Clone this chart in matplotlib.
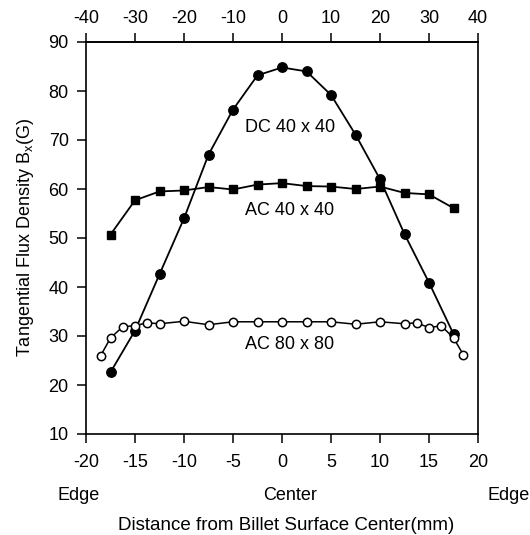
import numpy as np
import matplotlib
matplotlib.use('Agg')
import matplotlib.pyplot as plt

# Distance from billet surface center (mm)
x_dc = [-17.5, -15, -12.5, -10, -7.5, -5, -2.5, 0, 2.5, 5, 7.5, 10, 12.5, 15, 17.5]
dc_40 = [22.6, 31.1, 42.6, 54.0, 67.0, 76.2, 83.2, 84.8, 84.0, 79.2, 71.1, 62.0, 50.8, 40.9, 30.4]

x_ac40 = [-17.5, -15, -12.5, -10, -7.5, -5, -2.5, 0, 2.5, 5, 7.5, 10, 12.5, 15, 17.5]
ac_40 = [50.7, 57.7, 59.5, 59.7, 60.4, 59.9, 60.9, 61.2, 60.6, 60.5, 60.0, 60.5, 59.2, 58.9, 56.1]

x_ac80 = [-18.5, -17.5, -16.25, -15, -13.75, -12.5, -10, -7.5, -5, -2.5, 0,
          2.5, 5, 7.5, 10, 12.5, 13.75, 15, 16.25, 17.5, 18.5]
ac_80 = [26.0, 29.6, 31.9, 32.1, 32.7, 32.5, 33.0, 32.3, 32.9, 32.9, 32.9,
         32.9, 32.9, 32.4, 32.9, 32.5, 32.7, 31.7, 32.1, 29.6, 26.2]

bottom_ticks = [-20, -15, -10, -5, 0, 5, 10, 15, 20]
top_ticks = [-40, -30, -20, -10, 0, 10, 20, 30, 40]
y_ticks = [10, 20, 30, 40, 50, 60, 70, 80, 90]

plt.rcParams['font.family'] = ['Liberation Sans', 'DejaVu Sans']
plt.rcParams['axes.unicode_minus'] = False
plt.rcParams['mathtext.fontset'] = 'custom'
plt.rcParams['mathtext.rm'] = 'Liberation Sans'
plt.rcParams['mathtext.it'] = 'Liberation Sans'

fs = 13

fig = plt.figure(figsize=(5.3, 5.35), dpi=100)
ax = fig.add_axes([86 / 530, 1 - 434 / 535, 392 / 530, 392 / 535])

ax.plot(x_dc, dc_40, '-o', color='black', lw=1.3, ms=6.8, mfc='black', zorder=3)
ax.plot(x_ac40, ac_40, '-s', color='black', lw=1.3, ms=5.8, mfc='black', zorder=3)
ax.plot(x_ac80, ac_80, '-o', color='black', lw=1.1, ms=6.0, mfc='white', mew=1.1, zorder=4)

ax.text(0.8, 72.5, 'DC 40 x 40', ha='center', va='center', fontsize=fs)
ax.text(0.8, 55.7, 'AC 40 x 40', ha='center', va='center', fontsize=fs)
ax.text(0.8, 28.2, 'AC 80 x 80', ha='center', va='center', fontsize=fs)

ax.set_xlim(-20, 20)
ax.set_ylim(10, 90)
ax.set_xticks(bottom_ticks)
ax.set_yticks(y_ticks)
ax.tick_params(axis='x', direction='out', length=6.5, width=1.1, labelsize=fs, pad=8)
ax.tick_params(axis='y', direction='out', length=6.5, width=1.1, labelsize=fs, pad=6)
for s in ax.spines.values():
    s.set_linewidth(1.2)

top = ax.secondary_xaxis('top', functions=(lambda v: 2 * v, lambda v: v / 2))
top.set_xticks(top_ticks)
top.tick_params(direction='out', length=6.5, width=1.1, labelsize=fs, pad=4)
top.spines['top'].set_linewidth(1.2)

ax.set_ylabel('Tangential Flux Density B$_\\mathregular{x}$(G)', fontsize=fs, labelpad=9)

# Edge / Center markers under the bottom axis
fig.text(79 / 530, 1 - 495 / 535, 'Edge', ha='center', va='center', fontsize=fs)
fig.text(290 / 530, 1 - 495 / 535, 'Center', ha='center', va='center', fontsize=fs)
fig.text(509 / 530, 1 - 495 / 535, 'Edge', ha='center', va='center', fontsize=fs)
fig.text(286 / 530, 1 - 525 / 535, 'Distance from Billet Surface Center(mm)',
         ha='center', va='center', fontsize=13.5)

fig.savefig('out.png', dpi=100)
